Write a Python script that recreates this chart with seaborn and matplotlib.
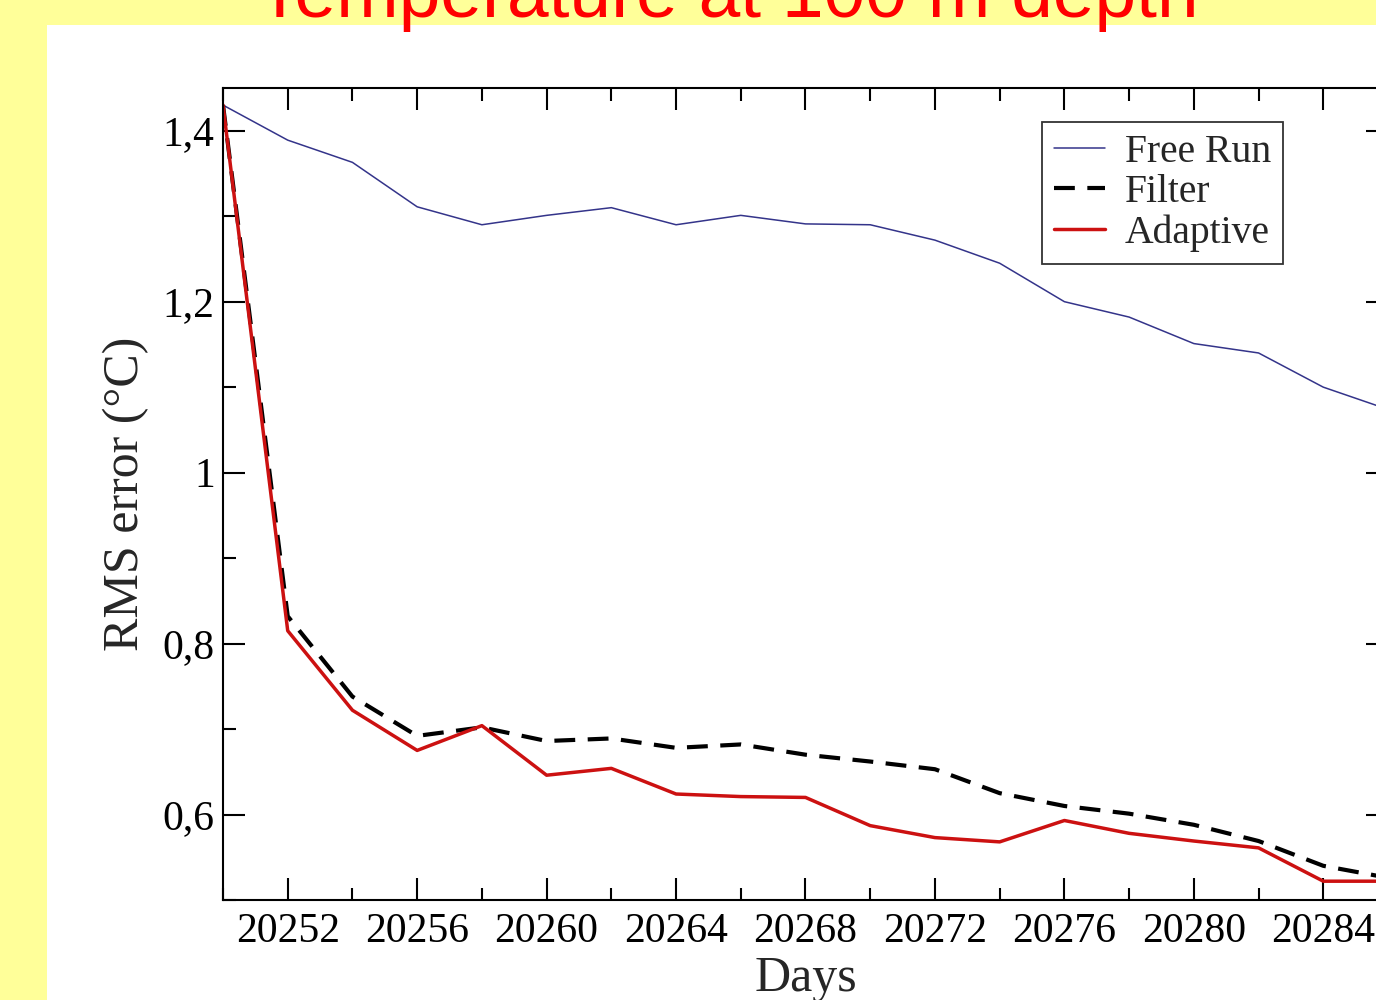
import pandas as pd
import matplotlib.pyplot as plt
import seaborn as sns
from matplotlib.patches import Rectangle
from matplotlib.ticker import MultipleLocator, FixedLocator, FixedFormatter

# ----------------------------------- data ----------------------------------
days = [20250, 20252, 20254, 20256, 20258, 20260, 20262, 20264, 20266, 20268,
        20270, 20272, 20274, 20276, 20278, 20280, 20282, 20284, 20286]
free_run = [1.430, 1.389, 1.363, 1.311, 1.290, 1.301, 1.310, 1.290, 1.301, 1.291,
            1.290, 1.272, 1.245, 1.200, 1.182, 1.151, 1.140, 1.100, 1.074]
filter_rms = [1.430, 0.832, 0.738, 0.692, 0.702, 0.686, 0.689, 0.678, 0.682, 0.670,
              0.662, 0.653, 0.625, 0.610, 0.601, 0.588, 0.569, 0.540, 0.526]
adaptive = [1.430, 0.815, 0.722, 0.675, 0.704, 0.646, 0.654, 0.624, 0.621, 0.620,
            0.587, 0.573, 0.568, 0.593, 0.578, 0.569, 0.561, 0.522, 0.522]

xtick_values = [20252, 20256, 20260, 20264, 20268, 20272, 20276, 20280, 20284]
ytick_values = [0.6, 0.8, 1.0, 1.2, 1.4]
ytick_labels = ["0,6", "0,8", "1", "1,2", "1,4"]

df = pd.DataFrame({"Days": days, "Free Run": free_run,
                   "Filter": filter_rms, "Adaptive": adaptive})

# ----------------------------------- figure ----------------------------------
sns.set_style("ticks")
plt.rcParams["font.family"] = ["Liberation Serif", "DejaVu Serif"]

fig = plt.figure(figsize=(13.76, 10), dpi=100, facecolor="#ffff99")
fig.patches.append(Rectangle((47 / 1376, 0), 1, 0.975, transform=fig.transFigure,
                             facecolor="white", edgecolor="none", zorder=-5))
fig.text(728 / 1376, 0.983, "Temperature at 100 m depth", color="#ff0000",
         fontsize=54, ha="center", va="baseline",
         family=["Liberation Sans", "DejaVu Sans"])

ax = fig.add_axes([223 / 1376, 0.1, 1165 / 1376, 0.812])
ax.set_facecolor("white")

sns.lineplot(data=df, x="Days", y="Free Run", ax=ax, color="#34348a",
             linewidth=1.1, label="Free Run")
sns.lineplot(data=df, x="Days", y="Filter", ax=ax, color="black",
             linewidth=3, linestyle=(0, (5, 3)), label="Filter")
sns.lineplot(data=df, x="Days", y="Adaptive", ax=ax, color="#cc1111",
             linewidth=2.5, label="Adaptive")

ax.set_xlim(20250, 20286)
ax.set_ylim(0.5, 1.45)

ax.xaxis.set_major_locator(FixedLocator(xtick_values))
ax.xaxis.set_minor_locator(MultipleLocator(2))
ax.yaxis.set_major_locator(FixedLocator(ytick_values))
ax.yaxis.set_major_formatter(FixedFormatter(ytick_labels))
ax.yaxis.set_minor_locator(MultipleLocator(0.1))

ax.tick_params(which="both", direction="in", top=True, right=True, width=1.5,
               colors="black", labelsize=30)
ax.tick_params(which="major", length=16)
ax.tick_params(which="minor", length=9)
ax.tick_params(axis="x", pad=9)
ax.tick_params(axis="y", pad=6)
for s in ax.spines.values():
    s.set_linewidth(1.5)
    s.set_color("black")

ax.set_xlabel("Days", fontsize=36)
ax.set_ylabel("RMS error (°C)", fontsize=36)
ax.xaxis.set_label_coords(0.5, -0.068)
ax.yaxis.set_label_coords(-0.063, 0.5)

leg = ax.legend(loc="upper right", bbox_to_anchor=(0.91, 0.958), borderaxespad=0,
                fontsize=28.5, frameon=True, fancybox=False, edgecolor="black",
                handlelength=1.3, handletextpad=0.5, labelspacing=0.08,
                borderpad=0.3)
leg.get_frame().set_linewidth(1.3)

fig.savefig("out.png", dpi=100, facecolor=fig.get_facecolor())
